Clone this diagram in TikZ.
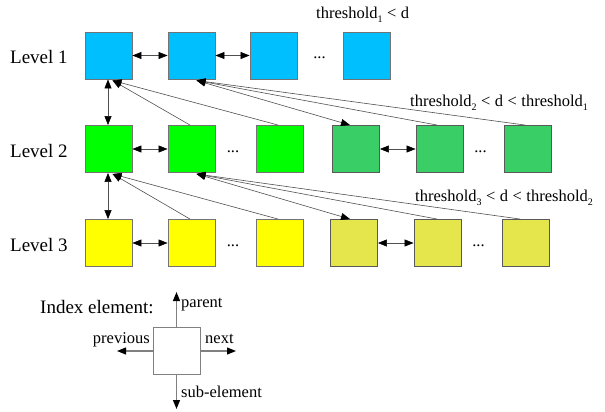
\documentclass[tikz,border=0pt]{standalone}
\usepackage{fontspec}
\setmainfont{LiberationSerif}[Extension=.ttf, UprightFont=*-Regular, BoldFont=*-Bold]
\usetikzlibrary{arrows.meta}
\definecolor{lblue}{HTML}{00BFFF}
\definecolor{lgreen}{HTML}{00FF00}
\definecolor{dgreen}{HTML}{3ACF66}
\definecolor{lyellow}{HTML}{FFFF00}
\definecolor{dyellow}{HTML}{E5E54C}
\definecolor{linegray}{HTML}{505050}
\tikzset{
  elem/.style={draw=gray!90!black, line width=0.9pt, minimum width=47pt, minimum height=47pt, inner sep=0pt},
  elemd/.style={elem, draw=black!65},
  lvl/.style={font=\fontsize{19}{22}\selectfont, inner sep=0pt},
  lbl/.style={font=\fontsize{16.5}{19}\selectfont, inner sep=0pt},
  dots/.style={font=\fontsize{16.5}{19}\selectfont, inner sep=0pt},
  link/.style={draw=linegray, line width=0.6pt},
  dlink/.style={link, {Triangle[length=9pt,width=7pt,color=black,fill=black]}-{Triangle[length=9pt,width=7pt,color=black,fill=black]}},
  slink/.style={link, -{Triangle[length=9pt,width=7pt,color=black,fill=black]}},
  legarrow/.style={draw=gray, line width=1.2pt, -{Triangle[length=9pt,width=7pt,fill=black,color=black]}},
}
\newcommand{\sub}[1]{\raisebox{-0.55ex}{\fontsize{10}{11}\selectfont #1}}
\newcommand{\lt}{\hspace{4.5pt}<\hspace{4.5pt}}
\begin{document}
\begin{tikzpicture}[x=1pt,y=-1pt]
\useasboundingbox (0,0) rectangle (605,412);
% level labels
\node[lvl, anchor=west] (l1) at (10,57) {Level 1};
\node[lvl, anchor=west] (l2) at (10,151) {Level 2};
\node[lvl, anchor=west] (l3) at (10,245) {Level 3};
% level 1
\node[elem, fill=lblue] (a1) at (108.5,55.5) {};
\node[elem, fill=lblue] (a2) at (191.5,55.5) {};
\node[elem, fill=lblue] (a3) at (273.5,55.5) {};
\node[dots] (ad) at (319.5,58) {...};
\node[elem, fill=lblue] (a4) at (366.5,55.5) {};
% level 2
\node[elem, fill=lgreen] (b1) at (108.5,149) {};
\node[elem, fill=lgreen] (b2) at (191.5,149) {};
\node[dots] (bd) at (233,151.5) {...};
\node[elem, fill=lgreen] (b3) at (280,149) {};
\node[elemd, fill=dgreen] (c1) at (356,149) {};
\node[elemd, fill=dgreen] (c2) at (439.5,149) {};
\node[dots] (cd) at (480.5,151.5) {...};
\node[elemd, fill=dgreen] (c3) at (528,149) {};
% level 3
\node[elem, fill=lyellow] (d1) at (108.5,243) {};
\node[elem, fill=lyellow] (d2) at (191.5,243) {};
\node[dots] (dd) at (233,245.5) {...};
\node[elem, fill=lyellow] (d3) at (280,243) {};
\node[elemd, fill=dyellow] (e1) at (354,243) {};
\node[elemd, fill=dyellow] (e2) at (437.5,243) {};
\node[dots] (ed) at (478.5,245.5) {...};
\node[elemd, fill=dyellow] (e3) at (526,243) {};
% thresholds
\node[lbl, anchor=west] (t1) at (316,15) {threshold\sub{1}\lt d};
\node[lbl, anchor=west] (t2) at (410,103) {threshold\sub{2}\lt d\lt threshold\sub{1}};
\node[lbl, anchor=west] (t3) at (415,198) {threshold\sub{3}\lt d\lt threshold\sub{2}};
% horizontal links
\draw[dlink] (a1.east) -- (a2.west);
\draw[dlink] (a2.east) -- (a3.west);
\draw[dlink] (b1.east) -- (b2.west);
\draw[dlink] (c1.east) -- (c2.west);
\draw[dlink] (d1.east) -- (d2.west);
\draw[dlink] (e1.east) -- (e2.west);
% vertical links
\draw[dlink] ([xshift=-0.5pt]a1.south) -- ([xshift=-0.5pt]b1.north);
\draw[dlink] ([xshift=-0.5pt]b1.south) -- ([xshift=-0.5pt]d1.north);
% level 2 -> level 1
\draw[slink] ([xshift=-1.5pt]b2.north) -- ([xshift=4pt,yshift=-1pt]a1.south);
\draw[slink] ([xshift=-2pt]b3.north) -- ([xshift=4pt,yshift=-1pt]a1.south);
\draw[dlink] ([xshift=-6pt]c1.north) -- ([xshift=5pt,yshift=-1pt]a2.south);
\draw[slink] ([xshift=-2.5pt]c2.north) -- ([xshift=5pt,yshift=-1pt]a2.south);
\draw[slink] ([xshift=-3pt]c3.north) -- ([xshift=5pt,yshift=-1pt]a2.south);
% level 3 -> level 2
\draw[slink] ([xshift=-1.5pt]d2.north) -- ([xshift=4pt,yshift=-1pt]b1.south);
\draw[slink] ([xshift=-2pt]d3.north) -- ([xshift=4pt,yshift=-1pt]b1.south);
\draw[dlink] ([xshift=-4pt]e1.north) -- ([xshift=5pt,yshift=-1pt]b2.south);
\draw[slink] ([xshift=-0.5pt]e2.north) -- ([xshift=5pt,yshift=-1pt]b2.south);
\draw[slink] ([xshift=-6pt]e3.north) -- ([xshift=5pt,yshift=-1pt]b2.south);
% legend
\node[lvl, anchor=west] (ie) at (40,307) {Index element:};
\node[draw=gray, line width=1pt, fill=white, minimum width=47pt, minimum height=47pt, inner sep=0pt] (x) at (176.5,350.5) {};
\coordinate (xu) at (176.5,292);
\coordinate (xl) at (117,351);
\coordinate (xr) at (236,351);
\coordinate (xd) at (176.5,409);
\draw[legarrow] (x.north) -- (xu);
\draw[legarrow] (x.west |- xl) -- (xl);
\draw[legarrow] (x.east |- xr) -- (xr);
\draw[legarrow] (x.south) -- (xd);
\node[lbl, anchor=west] (pa) at (181,305) {parent};
\node[lbl, anchor=east] (pr) at (150,340) {previous};
\node[lbl, anchor=west] (nx) at (205,339) {next};
\node[lbl, anchor=west] (se) at (181,392) {sub-element};
\end{tikzpicture}
\end{document}
